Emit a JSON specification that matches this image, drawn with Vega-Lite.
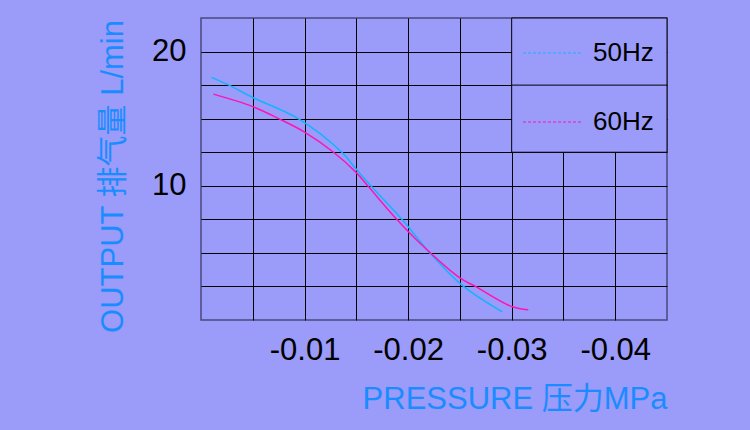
{
  "$schema": "https://vega.github.io/schema/vega-lite/v6.json",
  "width": 466,
  "height": 302,
  "autosize": {"type": "none"},
  "padding": {"left": 201, "top": 18, "right": 83, "bottom": 110},
  "background": "#9b9bfa",
  "config": {
    "view": {"stroke": "#4a4a80", "strokeWidth": 1.5, "fill": "#9b9bfa"},
    "font": "Liberation Sans",
    "axis": {
      "grid": true,
      "gridColor": "#000000",
      "gridOpacity": 1,
      "gridWidth": 1,
      "domain": false,
      "ticks": false,
      "labelFont": "Liberation Sans",
      "labelFontSize": 31,
      "labelColor": "#000000",
      "titleFont": "'Liberation Sans', 'Noto Sans CJK SC', sans-serif",
      "titleFontSize": 31,
      "titleFontWeight": "normal",
      "titleColor": "#1a8cff"
    }
  },
  "datasets": {
    "curves": [
      {"series": "50Hz", "p": -0.001, "q": 18.08},
      {"series": "50Hz", "p": -0.0027, "q": 17.5},
      {"series": "50Hz", "p": -0.005, "q": 16.58},
      {"series": "50Hz", "p": -0.0095, "q": 14.95},
      {"series": "50Hz", "p": -0.0136, "q": 12.5},
      {"series": "50Hz", "p": -0.015, "q": 11.23},
      {"series": "50Hz", "p": -0.0164, "q": 10.0},
      {"series": "50Hz", "p": -0.0194, "q": 7.5},
      {"series": "50Hz", "p": -0.0221, "q": 5.0},
      {"series": "50Hz", "p": -0.0252, "q": 2.6},
      {"series": "50Hz", "p": -0.0291, "q": 0.6},
      {"series": "60Hz", "p": -0.0012, "q": 16.83},
      {"series": "60Hz", "p": -0.005, "q": 15.9},
      {"series": "60Hz", "p": -0.0075, "q": 15.0},
      {"series": "60Hz", "p": -0.01, "q": 14.0},
      {"series": "60Hz", "p": -0.0128, "q": 12.5},
      {"series": "60Hz", "p": -0.015, "q": 10.98},
      {"series": "60Hz", "p": -0.0161, "q": 10.0},
      {"series": "60Hz", "p": -0.0189, "q": 7.5},
      {"series": "60Hz", "p": -0.0208, "q": 5.98},
      {"series": "60Hz", "p": -0.025, "q": 3.13},
      {"series": "60Hz", "p": -0.0265, "q": 2.5},
      {"series": "60Hz", "p": -0.03, "q": 1.0},
      {"series": "60Hz", "p": -0.0316, "q": 0.76}
    ]
  },
  "layer": [
    {
      "data": {"name": "curves"},
      "mark": {"type": "line", "strokeWidth": 1.5, "interpolate": "catmull-rom"},
      "encoding": {
        "x": {
          "field": "p",
          "type": "quantitative",
          "scale": {"domain": [0, -0.045], "nice": false, "zero": false},
          "axis": {
            "values": [-0.005, -0.01, -0.015, -0.02, -0.025, -0.03, -0.035, -0.04],
            "labelExpr": "abs(round(datum.value*1000)) % 10 == 0 ? '-0.0' + abs(round(datum.value*100)) : ''",
            "labelPadding": 15,
            "labelFlush": false,
            "labelOverlap": false,
            "title": "PRESSURE 压力MPa",
            "titleAnchor": "end",
            "titlePadding": 19
          }
        },
        "y": {
          "field": "q",
          "type": "quantitative",
          "scale": {"domain": [0, 22.5], "nice": false, "zero": false},
          "axis": {
            "values": [2.5, 5, 7.5, 10, 12.5, 15, 17.5, 20],
            "labelExpr": "datum.value == 10 || datum.value == 20 ? datum.label : ''",
            "labelPadding": 15,
            "labelOverlap": false,
            "title": "OUTPUT 排气量 L/min",
            "titleY": 158,
            "titlePadding": 22
          }
        },
        "color": {
          "field": "series",
          "type": "nominal",
          "scale": {"domain": ["50Hz", "60Hz"], "range": ["#12b4ff", "#ff14b4"]},
          "legend": {
            "orient": "none",
            "legendX": 321,
            "legendY": 4,
            "title": null,
            "symbolType": "stroke",
            "symbolSize": 3600,
            "symbolStrokeWidth": 1.2,
            "symbolDash": [3, 2],
            "symbolOpacity": 1,
            "labelFont": "Liberation Sans",
            "labelFontSize": 26,
            "labelColor": "#000000",
            "labelOffset": 9,
            "rowPadding": 25
          }
        }
      }
    },
    {
      "data": {"values": [{"box": "legend"}]},
      "mark": {"type": "rect", "fill": "#9b9bfa", "stroke": "#000000", "strokeWidth": 1},
      "encoding": {
        "x": {"datum": -0.03},
        "x2": {"datum": -0.045},
        "y": {"datum": 12.5},
        "y2": {"datum": 22.5}
      }
    },
    {
      "data": {"values": [{"box": "divider"}]},
      "mark": {"type": "rule", "stroke": "#000000", "strokeWidth": 1},
      "encoding": {
        "x": {"datum": -0.03},
        "x2": {"datum": -0.045},
        "y": {"datum": 17.5}
      }
    }
  ]
}
